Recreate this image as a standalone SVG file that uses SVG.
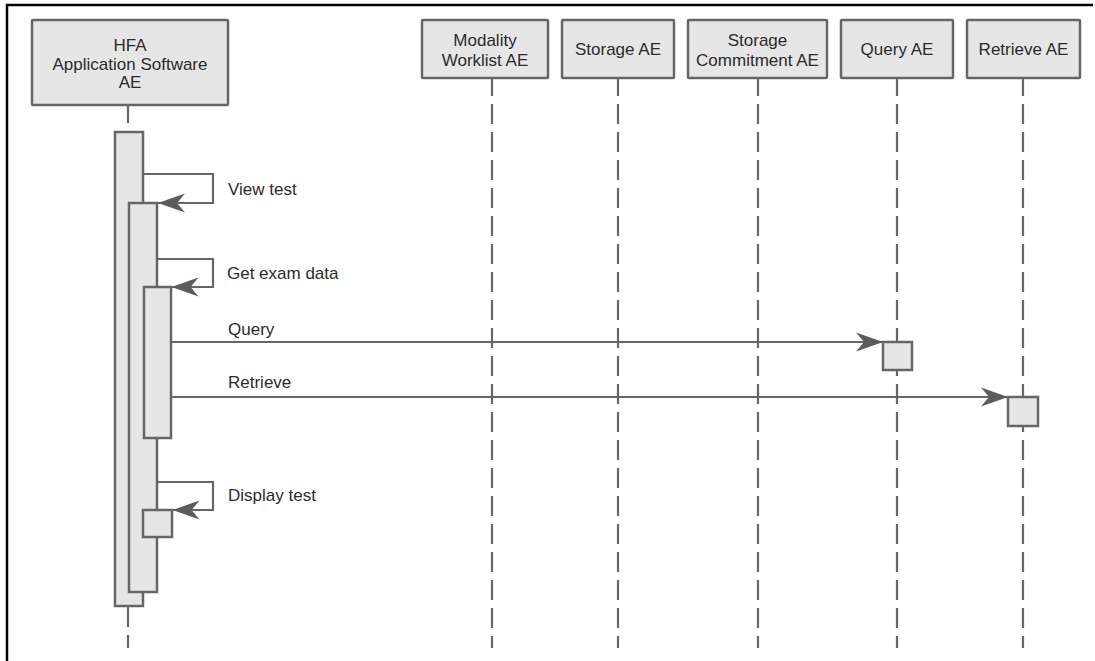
<svg xmlns="http://www.w3.org/2000/svg" width="1095" height="661" viewBox="0 0 1095 661">
  <defs>
    <marker id="arrow" viewBox="-28 -10 30 20" refX="0" refY="0" markerWidth="30" markerHeight="20" markerUnits="userSpaceOnUse" orient="auto">
      <path d="M0,0 L-27,-9.5 L-19,0 L-27,9.5 Z" fill="#5c5c5c"/>
    </marker>
    <style>
      .head { fill: #e6e6e6; stroke: #666666; stroke-width: 2.5; }
      .act { fill: #e6e6e6; stroke: #666666; stroke-width: 2.5; }
      .life { stroke: #666666; stroke-width: 2.2; stroke-dasharray: 20 8; stroke-dashoffset: 2; fill: none; }
      .msg { stroke: #666666; stroke-width: 2.2; fill: none; marker-end: url(#arrow); }
      .t { font-family: "Liberation Sans", Arial, sans-serif; font-size: 17px; fill: #2b2b2b; }
      .c { text-anchor: middle; }
    </style>
  </defs>
  <rect width="1095" height="661" fill="#ffffff"/>

  <!-- outer frame -->
  <path d="M7,661 V5 H1093" fill="none" stroke="#000000" stroke-width="2.5"/>

  <!-- lifelines -->
  <g id="lifelines">
    <line class="life" x1="128" y1="105" x2="128" y2="648"/>
    <line class="life" x1="492" y1="78" x2="492" y2="648"/>
    <line class="life" x1="618" y1="78" x2="618" y2="648"/>
    <line class="life" x1="758" y1="78" x2="758" y2="648"/>
    <line class="life" x1="897" y1="78" x2="897" y2="648"/>
    <line class="life" x1="1023" y1="78" x2="1023" y2="648"/>
  </g>

  <!-- participants -->
  <g id="hfa">
    <rect class="head" x="32" y="20" width="196" height="85" rx="1"/>
    <text class="t c" x="130" y="51">HFA</text>
    <text class="t c" x="130" y="70">Application Software</text>
    <text class="t c" x="130" y="88">AE</text>
  </g>
  <g id="modality-worklist">
    <rect class="head" x="422" y="20" width="126" height="58" rx="1"/>
    <text class="t c" x="485" y="45.5">Modality</text>
    <text class="t c" x="485" y="65.5">Worklist AE</text>
  </g>
  <g id="storage">
    <rect class="head" x="562" y="20" width="112" height="58" rx="1"/>
    <text class="t c" x="618" y="55">Storage AE</text>
  </g>
  <g id="storage-commitment">
    <rect class="head" x="688" y="20" width="139" height="58" rx="1"/>
    <text class="t c" x="757.5" y="45.5">Storage</text>
    <text class="t c" x="757.5" y="65.5">Commitment AE</text>
  </g>
  <g id="query">
    <rect class="head" x="841" y="20" width="112" height="58" rx="1"/>
    <text class="t c" x="897" y="55">Query AE</text>
  </g>
  <g id="retrieve">
    <rect class="head" x="967" y="20" width="113" height="58" rx="1"/>
    <text class="t c" x="1023.5" y="55">Retrieve AE</text>
  </g>

  <!-- activation bars -->
  <g id="activations">
    <rect class="act" x="115" y="132" width="28" height="474"/>
    <rect class="act" x="129" y="203" width="28" height="389"/>
    <rect class="act" x="144" y="287" width="27" height="151"/>
    <rect class="act" x="143" y="510" width="29" height="27"/>
    <rect class="act" x="883" y="342" width="29" height="28"/>
    <rect class="act" x="1008" y="397" width="30" height="29"/>
  </g>

  <!-- messages -->
  <g id="connectors">
    <path class="msg" d="M143,174 H213 V203 H158"/>
    <path class="msg" d="M157,259 H213 V287 H171.5"/>
    <path class="msg" d="M171,342 H883"/>
    <path class="msg" d="M171,397 H1008"/>
    <path class="msg" d="M158,482 H213 V510 H172.5"/>
  </g>

  <!-- message labels -->
  <g id="labels">
    <text class="t" x="228" y="195">View test</text>
    <text class="t" x="227" y="279">Get exam data</text>
    <text class="t" x="228" y="335">Query</text>
    <text class="t" x="228" y="388">Retrieve</text>
    <text class="t" x="228" y="501">Display test</text>
  </g>
</svg>
